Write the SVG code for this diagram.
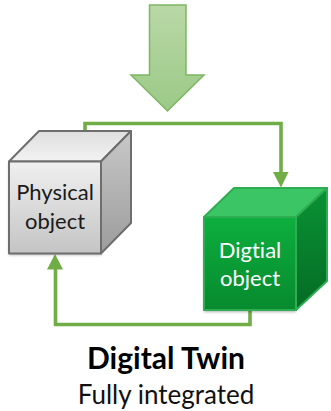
<svg xmlns="http://www.w3.org/2000/svg" width="331" height="411" viewBox="0 0 331 411">
<style>
text{font-family:Lato,"Noto Sans","Liberation Sans",sans-serif;text-anchor:middle;font-variant-ligatures:none}
.l{font-size:22px}
.c{fill:none;stroke:#70ad47;stroke-width:3.6}
.p{stroke:#6e6e6e;stroke-width:2;stroke-linejoin:round}
.d{stroke:#2fad52;stroke-width:2;stroke-linejoin:round}
</style>
<defs>
<linearGradient id="ga" x1="0" y1="0" x2="0" y2="1"><stop offset="0" stop-color="#b9d8a6"/><stop offset="1" stop-color="#9bc987"/></linearGradient>
<linearGradient id="pf" x1="0" y1="0" x2="0" y2="1"><stop offset="0" stop-color="#f0f0f0"/><stop offset="1" stop-color="#c4c4c4"/></linearGradient>
<linearGradient id="pt" x1="0" y1="0" x2="0" y2="1"><stop offset="0" stop-color="#dfdfdf"/><stop offset="1" stop-color="#f2f2f2"/></linearGradient>
<linearGradient id="ps" x1="0" y1="0" x2="0" y2="1"><stop offset="0" stop-color="#c8c8c8"/><stop offset="1" stop-color="#9c9c9c"/></linearGradient>
<linearGradient id="df" x1="0" y1="0" x2="0" y2="1"><stop offset="0" stop-color="#0daf3e"/><stop offset="1" stop-color="#078a2e"/></linearGradient>
<linearGradient id="ds" x1="0" y1="0" x2="0" y2="1"><stop offset="0" stop-color="#0a9235"/><stop offset="1" stop-color="#056c24"/></linearGradient>
<filter id="sh" x="-10%" y="-10%" width="120%" height="120%"><feGaussianBlur stdDeviation="1.5"/></filter>
</defs>
<g id="input-arrow"><path d="M149.500 5H186V75H204L167.500 111L131 75H149.500Z" fill="url(#ga)" stroke="#7eb662" stroke-width="1.500"/></g>
<g id="connectors">
<path class="c" d="M85 133V123.500H281V174"/>
<path d="M273 172H288.500L281 187.500Z" fill="#70ad47"/>
<path class="c" d="M250 310V324.500H55.500V268"/>
<path d="M47 269.500H63L55 254Z" fill="#70ad47"/>
</g>
<g id="physical-object">
<rect x="9" y="162" width="92" height="93" fill="#000" opacity=".3" filter="url(#sh)"/>
<path class="p" d="M9 161.500L39 131H131L101 161.500Z" fill="url(#pt)"/>
<path class="p" d="M101 161.500L131 131V223L101 253.500Z" fill="url(#ps)"/>
<rect class="p" x="9" y="161.500" width="92" height="92" fill="url(#pf)"/>
<text class="l" x="55" y="200" fill="#1a1a1a">Physical</text>
<text class="l" x="55" y="229" fill="#1a1a1a">object</text>
</g>
<g id="digital-object">
<rect x="204" y="218" width="92" height="94" fill="#000" opacity=".3" filter="url(#sh)"/>
<path class="d" d="M204 217L234 188H327L296 217Z" fill="#3cc565"/>
<path class="d" d="M296 217L327 188V281L296 310Z" fill="url(#ds)"/>
<rect class="d" x="204" y="217" width="92" height="93" fill="url(#df)"/>
<text class="l" x="250" y="258" fill="#fff">Digtial</text>
<text class="l" x="250" y="286" fill="#fff">object</text>
</g>
<g id="caption">
<text x="166" y="369" font-size="30" font-weight="700" fill="#000">Digital Twin</text>
<text x="166" y="404" font-size="26" fill="#111">Fully integrated</text>
</g>
</svg>
